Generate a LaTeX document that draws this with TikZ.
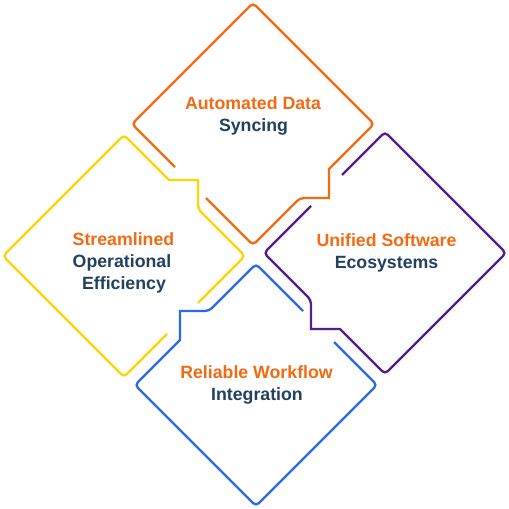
\documentclass[tikz,border=0pt]{standalone}
\usepackage{fontspec}
\setmainfont{Liberation Sans}
\definecolor{cOrange}{HTML}{F46A12}
\definecolor{cYellow}{HTML}{FFD308}
\definecolor{cPurple}{HTML}{511E8A}
\definecolor{cBlue}{HTML}{2A6AE8}
\definecolor{cNavy}{HTML}{22405F}
\newcommand{\gemoutline}{%
  (-48.5,-56.5) -- (-1.5,-9.5) -- (45.5,-56.5) [sharp corners] -- (74.5,-56.5) -- (74.5,-85.5)
  [rounded corners=3pt] -- (119.5,-130.5) -- (-1.5,-251.5) -- (-122.5,-130.5) -- (-79.5,-87.5)}
\tikzset{
  gem/.style={line width=1.75pt, rounded corners=3pt},
  headtxt/.style={anchor=base, inner sep=0pt, font=\fontsize{13.3pt}{16pt}\selectfont\bfseries, text=cOrange},
  subtxt/.style={anchor=base, inner sep=0pt, font=\fontsize{13.3pt}{16pt}\selectfont\bfseries, text=cNavy}
}
\begin{document}
\begin{tikzpicture}[x=0.75pt, y=-0.75pt]
\useasboundingbox (0,0) rectangle (509,509);
\fill[white] (0,0) rectangle (509,509);
\begin{scope}[shift={(254.5,254.5)}]
  \draw[gem, cOrange] \gemoutline;
  \begin{scope}[rotate=-90]\draw[gem, cPurple] \gemoutline;\end{scope}
  \begin{scope}[rotate=-180]\draw[gem, cBlue] \gemoutline;\end{scope}
  \begin{scope}[rotate=90]\draw[gem, cYellow] \gemoutline;\end{scope}
\end{scope}
\node[headtxt] (o1) at (253,110) {Automated Data};
\node[subtxt] (o2) at (253.5,132) {Syncing};
\node[headtxt] (p1) at (386.5,246) {Unified Software};
\node[subtxt] (p2) at (386.5,268) {Ecosystems};
\node[headtxt] (b1) at (256.5,378) {Reliable Workflow};
\node[subtxt] (b2) at (257,400) {Integration};
\node[headtxt] (y1) at (123.5,245) {Streamlined};
\node[subtxt] (y2) at (122,267) {Operational};
\node[subtxt] (y3) at (124,289) {Efficiency};
\end{tikzpicture}
\end{document}
